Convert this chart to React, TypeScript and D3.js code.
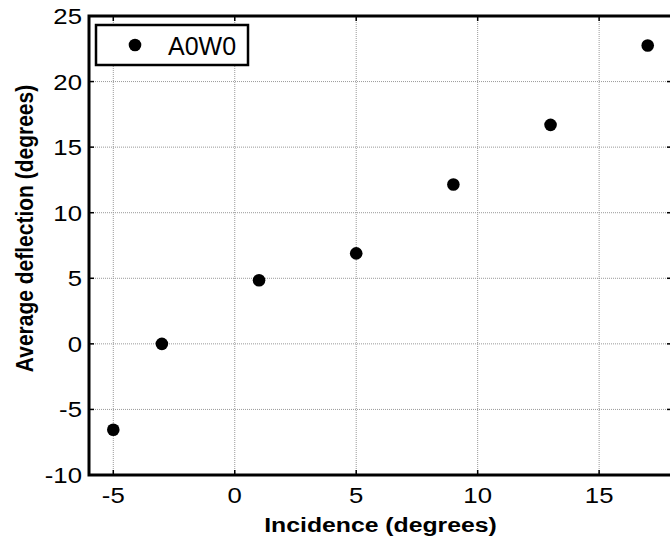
import React from "react";
import * as d3 from "d3";

const incidence = [-5, -3, 1, 5, 9, 13, 17];
const deflection = [-6.55, 0, 4.85, 6.9, 12.15, 16.7, 22.75];
const xTicks = [-5, 0, 5, 10, 15];
const yTicks = [-10, -5, 0, 5, 10, 15, 20, 25];
const seriesName = "A0W0";

export default function App() {
  const W = 670, H = 542;
  const left = 89, right = 672, top = 16, bottom = 475;
  const x = d3.scaleLinear().domain([-6, 18]).range([left, right]);
  const y = d3.scaleLinear().domain([-10, 25]).range([bottom, top]);
  const font = "Arial, 'Liberation Sans', sans-serif";
  const sx = 1.17;
  return (
    <div style={{ position: "absolute", left: 0, top: 0 }}>
      <svg width={W} height={H} style={{ display: "block", background: "#fff" }}>
        <rect x={0} y={0} width={W} height={H} fill="#fff" />
        {xTicks.map((t) => (
          <line key={"gx" + t} x1={x(t)} x2={x(t)} y1={top} y2={bottom} stroke="#999" strokeWidth={1} strokeDasharray="1,1" />
        ))}
        {yTicks.map((t) => (
          <line key={"gy" + t} x1={left} x2={right} y1={y(t)} y2={y(t)} stroke="#999" strokeWidth={1} strokeDasharray="1,1" />
        ))}
        {xTicks.map((t) => (
          <g key={"tx" + t}>
            <line x1={x(t)} x2={x(t)} y1={bottom} y2={bottom - 5} stroke="#000" strokeWidth={1.5} />
            <line x1={x(t)} x2={x(t)} y1={top} y2={top + 5} stroke="#000" strokeWidth={1.5} />
            <text transform={`translate(${x(t)}, ${bottom + 28}) scale(${sx}, 1)`} textAnchor="middle" fontFamily={font} fontSize={22}>{t}</text>
          </g>
        ))}
        {yTicks.map((t) => (
          <g key={"ty" + t}>
            <line x1={left} x2={left + 5} y1={y(t)} y2={y(t)} stroke="#000" strokeWidth={1.5} />
            <line x1={right} x2={right - 5} y1={y(t)} y2={y(t)} stroke="#000" strokeWidth={1.5} />
            <text transform={`translate(${left - 7}, ${y(t) + 8}) scale(${sx}, 1)`} textAnchor="end" fontFamily={font} fontSize={22}>{t}</text>
          </g>
        ))}
        <rect x={left} y={top} width={right - left} height={bottom - top} fill="none" stroke="#000" strokeWidth={3} />
        {incidence.map((v, i) => (
          <circle key={"p" + i} cx={x(v)} cy={y(deflection[i])} r={6.3} fill="#000" />
        ))}
        <rect x={96} y={25} width={152} height={40} fill="#fff" stroke="#000" strokeWidth={2.5} />
        <circle cx={135} cy={45} r={6.3} fill="#000" />
        <text x={168} y={55} fontFamily={font} fontSize={25}>{seriesName}</text>
        <text transform={`translate(${(left + right) / 2}, 532) scale(1.18, 1)`} textAnchor="middle" fontFamily={font} fontSize={21} fontWeight="bold">Incidence (degrees)</text>
        <text transform={`translate(33, 228.5) scale(1.18, 1) rotate(-90)`} textAnchor="middle" fontFamily={font} fontSize={21} fontWeight="bold">Average deflection (degrees)</text>
      </svg>
    </div>
  );
}
